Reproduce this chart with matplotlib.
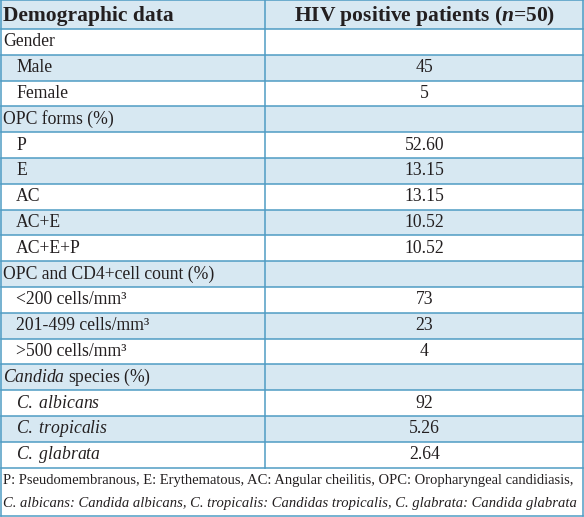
import matplotlib
matplotlib.use('Agg')
import matplotlib.pyplot as plt
from matplotlib.patches import Rectangle

plt.rcParams['font.family'] = ['Liberation Serif', 'DejaVu Serif']
plt.rcParams['mathtext.fontset'] = 'custom'
plt.rcParams['mathtext.rm'] = 'Liberation Serif'
plt.rcParams['mathtext.it'] = 'Liberation Serif:italic'
plt.rcParams['mathtext.bf'] = 'Liberation Serif:bold'
plt.rcParams['mathtext.bfit'] = 'Liberation Serif:italic:bold'

# データ
col_headers = ['Demographic data', r'HIV positive patients ($\mathbfit{n}$=50)']
labels = ['Gender', 'Male', 'Female',
          'OPC forms (%)', 'P', 'E', 'AC', 'AC+E', 'AC+E+P',
          'OPC and CD4+cell count (%)', '<200 cells/mm³', '201-499 cells/mm³', '>500 cells/mm³',
          r'$\mathit{Candida}$ species (%)', r'$\mathit{C.\ albicans}$', r'$\mathit{C.\ tropicalis}$',
          r'$\mathit{C.\ glabrata}$']
values = ['', '45', '5',
          '', '52.60', '13.15', '13.15', '10.52', '10.52',
          '', '73', '23', '4',
          '', '92', '5.26', '2.64']
indent = [0, 1, 1, 0, 1, 1, 1, 1, 1, 0, 1, 1, 1, 0, 1, 1, 1]
footnote = ['P: Pseudomembranous, E: Erythematous, AC: Angular cheilitis, OPC: Oropharyngeal candidiasis,',
            'C. albicans: Candida albicans, C. tropicalis: Candidas tropicalis, C. glabrata: Candida glabrata']

blue = '#d7e8f2'
line_c = '#4f9cc4'
txt_c = '#231f20'

W, H = 584, 517
x_div = 265
head_h = 29
row_h = 25.8
foot_top = head_h + row_h * len(labels)

fig = plt.figure(figsize=(5.84, 5.17), dpi=100)
ax = fig.add_axes([0, 0, 1, 1])
ax.set_xlim(0, W)
ax.set_ylim(H, 0)
ax.axis('off')

# 背景
ax.add_patch(Rectangle((0, 0), W, head_h, color=blue, lw=0))
for i in range(len(labels)):
    if i % 2 == 1:
        ax.add_patch(Rectangle((0, head_h + i * row_h), W, row_h, color=blue, lw=0))

# 罫線
lw = 1.1
ys = [0, head_h] + [head_h + (i + 1) * row_h for i in range(len(labels))] + [H - 1]
for y in ys:
    ax.plot([1, W - 1], [y, y], color=line_c, lw=lw)
ax.plot([1, 1], [0, H - 1], color=line_c, lw=lw)
ax.plot([W - 1, W - 1], [0, H - 1], color=line_c, lw=lw)
ax.plot([x_div, x_div], [0, foot_top], color=line_c, lw=lw)

# テキスト
fs = 12.7
ax.text(3, head_h / 2 + 1, col_headers[0], fontsize=15.5, fontweight='bold', color=txt_c, va='center')
ax.text((x_div + W) / 2, head_h / 2 + 1, col_headers[1], fontsize=15.5, fontweight='bold', color=txt_c,
        va='center', ha='center')
for i, (lab, val) in enumerate(zip(labels, values)):
    yc = head_h + (i + 0.5) * row_h
    ax.text(3 + 13 * indent[i], yc, lab, fontsize=fs, color=txt_c, va='center')
    if val:
        ax.text((x_div + W) / 2, yc, val, fontsize=fs, color=txt_c, va='center', ha='center')

foot_h = H - foot_top
ax.text(3, foot_top + foot_h * 0.27, footnote[0], fontsize=10.55, color=txt_c, va='center')
ax.text(3, foot_top + foot_h * 0.73, footnote[1], fontsize=10.55, color=txt_c, va='center', style='italic')

fig.savefig('out.png', dpi=100)
